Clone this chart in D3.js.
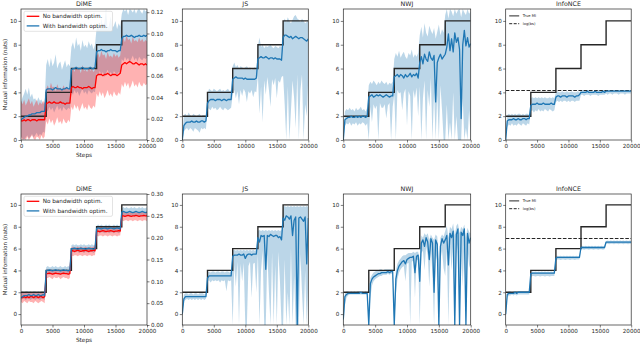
<!DOCTYPE html>
<html>
<head>
<meta charset="utf-8">
<script src="https://cdn.jsdelivr.net/npm/d3@7"></script>
<style>
  body { margin: 0; background: #fff; }
  svg { display: block; font-family: "DejaVu Sans", sans-serif; }
</style>
</head>
<body>
<svg id="chart" width="640" height="345"></svg>
<script>
// sample grid: one value every 250 steps, 0..20000
const STEPS = d3.range(0, 20001, 250);
const MI_STEPS = [0, 4000, 8000, 12000, 16000, 20000];
const TRUE_MI = [2, 4, 6, 8, 10, 10];
const X_TICKS = [0, 5000, 10000, 15000, 20000];
const Y_TICKS = [0, 2, 4, 6, 8, 10];
const RIGHT_TICKS_TOP = [0, 0.02, 0.04, 0.06, 0.08, 0.1, 0.12];
const RIGHT_TICKS_BOTTOM = [0, 0.05, 0.1, 0.15, 0.2, 0.25, 0.3];
const LOG_BS = [4.16, 6.93];
const TITLES = ["DiME", "JS", "NWJ", "InfoNCE"];
const DIME_LABELS = ["No bandwidth optim.", "With bandwidth optim."];
const NCE_LABELS = ["True MI", "log(bs)"];

// ---- top row ----
const dimeTopRedMean = [
1.6,1.6,1.7,1.6,1.7,1.7,1.6,1.7,1.7,1.7,1.6,1.7,1.7,1.7,1.7,1.7,
3.1,3.1,3.2,3.1,3.1,3.2,3.1,3.1,3.1,3.2,3.1,3.1,3.0,3.1,3.1,3.1,
4.4,4.5,4.4,4.4,4.5,4.4,4.4,4.3,4.4,4.4,4.4,4.5,4.4,4.3,4.4,4.4,
5.4,5.5,5.5,5.5,5.4,5.5,5.5,5.6,5.5,5.4,5.5,5.5,5.5,5.4,5.5,5.6,
6.3,6.4,6.5,6.4,6.5,6.6,6.5,6.4,6.4,6.5,6.4,6.3,6.4,6.4,6.3,6.4,6.3];
const dimeTopRedHi = [
3.3,3.0,3.4,2.9,3.2,3.5,3.0,3.3,2.8,3.1,3.4,2.9,3.2,3.0,3.3,3.1,
4.3,4.6,4.2,4.8,4.4,4.5,4.1,4.7,4.3,4.4,4.2,4.6,4.3,4.5,4.2,4.4,
5.8,6.1,5.7,6.2,5.9,6.0,5.6,6.3,5.8,5.9,5.7,6.1,5.8,6.0,5.7,5.9,
7.0,7.3,6.9,7.5,7.1,7.2,6.8,7.4,7.0,7.1,6.9,7.3,7.0,7.2,6.9,7.1,
8.3,8.6,8.2,8.8,8.4,8.5,8.1,8.7,8.3,8.4,8.2,8.6,8.3,8.5,8.2,8.4,8.3];
const dimeTopRedLo = [
0.2,0.0,0.1,0.0,0.3,0.0,0.2,0.4,0.1,0.0,0.3,0.2,0.0,0.4,0.1,0.3,
1.6,1.3,1.8,1.4,1.7,1.2,1.5,1.9,1.4,1.6,1.3,1.8,1.5,1.4,1.7,1.5,
2.8,2.5,3.0,2.6,2.9,2.4,2.7,3.1,2.6,2.8,2.5,3.0,2.7,2.6,2.9,2.7,
3.9,3.6,4.1,3.7,4.0,3.5,3.8,4.2,3.7,3.9,3.6,4.1,3.8,3.7,4.0,3.8,
4.7,4.4,4.9,4.5,4.8,4.3,4.6,5.0,4.5,4.7,4.4,4.9,4.6,4.5,4.8,4.6,4.7];
const dimeTopBlueMean = [
1.7,1.8,1.9,2.0,2.0,2.1,2.1,2.2,2.2,2.2,2.3,2.3,2.3,2.4,2.4,2.4,
4.2,4.3,4.3,4.3,4.2,4.3,4.4,4.3,4.3,4.3,4.2,4.3,4.3,4.4,4.3,4.3,
5.9,6.0,6.0,6.1,6.0,6.0,6.0,6.1,6.0,6.0,6.0,6.0,6.1,6.0,6.0,6.1,
7.4,7.5,7.5,7.6,7.5,7.5,7.4,7.5,7.5,7.6,7.5,7.5,7.5,7.4,7.5,7.5,
8.5,8.7,8.7,8.8,8.7,8.7,8.8,8.7,8.6,8.7,8.7,8.8,8.7,8.7,8.8,8.7,8.8];
const dimeTopBlueHi = [
3.2,3.6,3.9,4.3,3.8,4.4,3.6,3.9,3.4,3.5,3.2,3.6,3.3,3.4,3.0,3.2,
6.3,6.8,6.1,6.9,6.2,6.5,7.2,6.0,6.4,6.6,5.9,6.3,6.7,6.1,6.4,6.2,
7.8,8.2,7.6,8.6,7.9,8.1,7.5,8.4,7.8,8.0,7.7,8.3,7.9,8.1,7.6,8.0,
9.4,9.8,9.2,10.2,9.5,9.9,11.0,9.3,9.7,10.4,9.4,9.6,10.0,9.3,9.8,9.5,
10.6,11.0,10.8,11.0,10.5,11.0,10.9,10.7,11.0,10.6,10.9,11.0,10.8,10.6,11.0,10.8,10.9];
const dimeTopBlueLo = [
0.3,0.1,0.0,0.2,0.4,0.1,0.3,0.5,0.2,0.4,0.6,0.3,0.5,0.4,0.7,0.6,
2.6,2.4,2.8,2.5,2.7,2.3,2.6,2.9,2.5,2.7,2.4,2.8,2.6,2.5,2.7,2.6,
4.0,3.8,4.2,3.9,4.1,3.7,4.0,4.3,3.9,4.1,3.8,4.2,4.0,3.9,4.1,4.0,
5.6,5.4,5.8,5.5,5.7,5.3,5.6,5.9,5.5,5.7,5.4,5.8,5.6,5.5,5.7,5.6,
6.8,6.6,7.0,6.7,6.9,6.5,6.8,7.1,6.7,6.9,6.6,7.0,6.8,6.7,6.9,6.8,6.9];

const jsTopMean = [
0.0,1.2,1.4,1.5,1.5,1.5,1.6,1.5,1.5,1.6,1.5,1.5,1.6,1.6,1.5,1.6,
3.1,3.3,3.4,3.4,3.4,3.3,3.4,3.4,3.4,3.3,3.4,3.4,3.3,3.4,3.4,3.4,
5.1,5.2,5.3,5.2,5.2,5.2,5.2,5.1,5.2,5.1,5.1,5.1,5.1,5.1,5.1,5.2,
6.8,6.9,7.0,6.9,6.9,7.0,6.9,6.8,6.9,6.9,6.8,6.9,6.8,6.8,6.8,6.7,
8.6,8.8,8.8,8.7,8.6,8.7,8.5,8.6,8.7,8.6,8.5,8.6,8.6,8.5,8.4,8.3,8.5];
const jsTopHi = [
0.3,2.1,2.2,2.0,2.3,2.1,2.0,2.2,2.1,2.0,2.1,2.2,2.0,2.1,2.1,2.0,
3.9,4.3,4.2,4.1,4.3,4.2,4.1,4.2,4.3,4.1,4.2,4.1,4.2,4.3,4.1,4.2,
6.2,6.5,6.1,6.3,6.0,6.2,6.1,6.0,6.1,6.2,6.0,6.1,5.9,6.0,6.1,6.0,
7.9,8.6,7.8,8.0,7.7,7.9,7.8,7.9,8.0,7.8,7.7,7.9,7.8,7.7,7.9,7.8,
9.8,10.2,9.9,10.3,10.0,9.8,10.1,10.4,10.5,10.2,10.1,9.9,10.2,10.0,9.8,9.9,10.0];
const jsTopLo = [
0.0,0.7,0.9,1.0,0.8,1.0,0.9,0.7,1.0,0.9,0.8,0.6,1.0,0.9,1.0,0.9,
2.7,2.6,2.5,2.8,2.6,2.7,2.5,2.6,2.8,2.6,2.5,2.7,2.6,2.5,2.6,2.7,
3.8,4.2,3.5,4.1,3.0,4.2,3.7,4.3,4.0,3.2,4.1,3.9,4.2,3.6,4.1,4.0,
5.4,2.2,4.5,1.5,5.0,3.8,5.3,4.2,2.8,5.1,4.6,5.2,3.5,5.0,4.8,5.3,
5.4,3.0,0.0,4.5,0.0,2.5,5.0,3.5,1.0,5.5,0.0,4.2,5.5,0.0,3.0,2.0,5.2];

const nwjTopMean = [
0.0,1.7,1.8,1.9,1.9,2.0,1.9,1.9,2.0,1.9,2.0,1.9,2.0,2.0,1.9,2.0,
3.6,3.7,3.8,3.6,3.7,3.8,3.7,3.8,3.7,3.6,3.7,3.8,3.7,3.6,3.7,3.7,
5.3,5.4,5.5,5.3,5.5,5.4,5.2,5.5,5.3,5.4,5.6,5.3,5.5,5.4,5.6,5.2,
6.5,7.0,6.4,7.2,6.8,6.6,7.4,6.9,6.7,7.1,3.2,6.5,6.9,7.2,6.8,7.0,
7.2,7.8,8.9,7.5,8.5,7.4,9.0,8.2,8.6,7.6,1.8,8.0,9.2,7.9,8.6,7.8,8.1];
const nwjTopHi = [
0.3,2.4,2.6,2.5,2.7,2.5,2.6,2.4,2.7,2.5,2.6,2.8,2.5,2.6,2.4,2.7,
4.6,4.9,4.7,5.0,4.8,4.6,4.9,4.7,5.0,4.8,4.7,4.9,4.6,4.8,4.7,4.9,
6.8,7.3,7.0,7.5,6.9,7.2,7.4,7.0,6.8,7.3,7.1,7.6,6.9,7.2,7.0,7.3,
8.8,9.5,8.6,9.8,9.0,8.7,9.6,9.2,8.9,9.4,8.5,9.1,9.7,8.8,9.3,9.0,
10.5,11.0,10.2,11.0,10.8,10.4,11.0,10.6,10.9,11.0,10.3,11.0,10.7,10.5,11.0,10.6,10.8];
const nwjTopLo = [
0.0,1.2,1.4,1.3,1.5,1.2,1.4,1.3,1.5,1.2,1.4,1.3,1.5,1.4,1.2,1.4,
0.0,2.8,1.5,3.0,2.6,2.9,0.0,3.1,2.7,2.7,3.0,1.8,2.9,3.1,0.0,2.8,
3.8,0.0,4.2,3.9,4.0,2.5,3.9,4.3,1.2,4.1,3.7,0.0,4.2,3.5,4.4,2.0,
4.5,0.0,3.5,5.0,0.0,4.2,2.8,5.2,0.0,4.0,0.0,3.8,0.0,4.6,2.5,0.0,
0.0,3.0,0.0,1.5,0.0,4.0,0.0,2.0,0.0,0.0,0.0,3.5,0.0,1.0,0.0,2.5,0.0];

const nceTopMean = [
0.0,1.6,1.7,1.7,1.7,1.8,1.7,1.7,1.8,1.7,1.7,1.8,1.8,1.7,1.8,1.8,
2.9,3.0,3.0,3.0,3.1,3.0,3.0,3.0,3.1,3.0,3.0,3.0,3.0,3.1,3.0,3.0,
3.6,3.7,3.7,3.6,3.7,3.7,3.7,3.6,3.7,3.7,3.7,3.7,3.6,3.7,3.7,3.8,
4.0,4.0,4.0,4.0,4.1,4.0,4.0,4.0,4.0,4.1,4.0,4.0,4.0,4.0,4.1,4.0,
4.1,4.1,4.1,4.1,4.1,4.1,4.1,4.1,4.1,4.1,4.1,4.1,4.1,4.1,4.1,4.1,4.1];
const nceTopHi = [
0.2,2.1,2.2,2.1,2.2,2.1,2.2,2.1,2.2,2.2,2.1,2.2,2.1,2.2,2.2,2.1,
3.5,3.6,3.5,3.6,3.5,3.6,3.5,3.6,3.5,3.6,3.5,3.5,3.6,3.5,3.6,3.5,
4.0,4.1,4.0,4.0,4.1,4.0,4.0,4.1,4.0,4.0,4.1,4.0,4.0,4.0,4.1,4.0,
4.2,4.2,4.2,4.1,4.2,4.2,4.2,4.2,4.1,4.2,4.2,4.2,4.2,4.2,4.2,4.2,
4.2,4.2,4.2,4.2,4.2,4.2,4.2,4.2,4.2,4.2,4.2,4.2,4.2,4.2,4.2,4.2,4.2];
const nceTopLo = [
0.0,1.1,1.3,1.2,1.4,1.2,1.3,1.2,1.4,1.3,1.2,1.4,1.3,1.2,1.4,1.3,
2.4,2.5,2.3,2.5,2.4,2.6,2.4,2.5,2.4,2.6,2.5,2.4,2.6,2.5,2.4,2.5,
3.2,3.3,3.2,3.3,3.2,3.3,3.3,3.2,3.3,3.2,3.3,3.3,3.2,3.3,3.3,3.3,
3.8,3.8,3.7,3.8,3.8,3.8,3.7,3.8,3.8,3.8,3.8,3.7,3.8,3.8,3.8,3.8,
3.9,3.8,3.9,3.9,3.8,3.9,3.9,3.9,3.8,3.9,3.9,3.9,3.8,3.9,3.9,3.9,3.9];

// ---- bottom row ----
const dimeBotRedMean = [
1.5,1.5,1.6,1.5,1.6,1.5,1.6,1.6,1.5,1.6,1.6,1.5,1.6,1.6,1.5,1.6,
3.7,3.7,3.75,3.7,3.65,3.7,3.75,3.7,3.7,3.65,3.7,3.75,3.7,3.7,3.65,3.7,
5.8,5.8,5.75,5.8,5.85,5.8,5.75,5.8,5.8,5.85,5.8,5.75,5.8,5.8,5.85,5.8,
7.6,7.6,7.55,7.6,7.65,7.6,7.55,7.6,7.6,7.65,7.6,7.55,7.6,7.6,7.65,7.6,
9.0,9.0,8.95,9.0,9.05,9.0,8.95,9.0,9.0,9.05,9.0,8.95,9.0,9.0,9.05,9.0,9.0];
const dimeBotRedHi = [
1.9,2.0,1.9,2.0,1.9,2.0,2.0,1.9,2.0,1.9,2.0,2.0,1.9,2.0,1.9,2.0,
4.0,4.1,4.0,4.1,4.0,4.0,4.1,4.0,4.1,4.0,4.0,4.1,4.0,4.1,4.0,4.0,
6.1,6.2,6.1,6.1,6.2,6.1,6.2,6.1,6.1,6.2,6.1,6.1,6.2,6.1,6.2,6.1,
7.9,8.0,7.9,8.0,7.9,7.9,8.0,7.9,8.0,7.9,7.9,8.0,7.9,8.0,7.9,7.9,
9.3,9.4,9.3,9.4,9.3,9.3,9.4,9.3,9.4,9.3,9.3,9.4,9.3,9.4,9.3,9.3,9.4];
const dimeBotRedLo = [
1.1,1.0,1.2,1.1,1.0,1.2,1.1,1.1,1.0,1.2,1.1,1.0,1.1,1.2,1.1,1.0,
3.3,3.3,3.4,3.3,3.2,3.4,3.3,3.3,3.4,3.2,3.3,3.4,3.3,3.3,3.2,3.3,
5.4,5.3,5.4,5.4,5.3,5.4,5.4,5.3,5.4,5.4,5.3,5.4,5.4,5.3,5.4,5.4,
7.2,7.1,7.2,7.2,7.1,7.2,7.2,7.1,7.2,7.2,7.1,7.2,7.2,7.1,7.2,7.2,
8.6,8.5,8.6,8.6,8.5,8.6,8.6,8.5,8.6,8.6,8.5,8.6,8.6,8.5,8.6,8.6,8.5];
const dimeBotBlueMean = [
1.5,1.6,1.7,1.7,1.7,1.8,1.7,1.7,1.8,1.7,1.7,1.8,1.7,1.7,1.8,1.7,
4.0,4.0,4.05,4.0,3.95,4.0,4.05,4.0,4.0,3.95,4.0,4.05,4.0,4.0,3.95,4.0,
6.0,6.0,6.05,6.0,5.95,6.0,6.05,6.0,6.0,5.95,6.0,6.05,6.0,6.0,5.95,6.0,
7.85,7.9,7.85,7.8,7.85,7.9,7.85,7.8,7.85,7.9,7.85,7.8,7.85,7.9,7.85,7.8,
9.35,9.4,9.35,9.3,9.35,9.4,9.35,9.3,9.35,9.4,9.35,9.3,9.35,9.4,9.35,9.3,9.35];
const dimeBotBlueHi = [
2.0,2.1,2.0,2.1,2.1,2.0,2.1,2.0,2.1,2.1,2.0,2.1,2.0,2.1,2.1,2.0,
4.3,4.4,4.3,4.3,4.4,4.3,4.4,4.3,4.3,4.4,4.3,4.3,4.4,4.3,4.4,4.3,
6.3,6.4,6.3,6.4,6.3,6.3,6.4,6.3,6.4,6.3,6.3,6.4,6.3,6.4,6.3,6.3,
8.1,8.2,8.1,8.2,8.1,8.1,8.2,8.1,8.2,8.1,8.1,8.2,8.1,8.2,8.1,8.1,
9.7,9.8,9.7,9.8,9.7,9.7,9.8,9.7,9.8,9.7,9.7,9.8,9.7,9.8,9.7,9.7,9.8];
const dimeBotBlueLo = [
1.3,1.4,1.4,1.3,1.4,1.4,1.3,1.4,1.4,1.3,1.4,1.4,1.3,1.4,1.4,1.3,
3.7,3.7,3.6,3.7,3.7,3.6,3.7,3.7,3.6,3.7,3.7,3.6,3.7,3.7,3.6,3.7,
5.7,5.7,5.6,5.7,5.7,5.6,5.7,5.7,5.6,5.7,5.7,5.6,5.7,5.7,5.6,5.7,
7.5,7.5,7.4,7.5,7.5,7.4,7.5,7.5,7.4,7.5,7.5,7.4,7.5,7.5,7.4,7.5,
9.0,9.0,8.9,9.0,9.0,8.9,9.0,9.0,8.9,9.0,9.0,8.9,9.0,9.0,8.9,9.0,9.0];

const jsBotMean = [
0.0,1.4,1.6,1.6,1.6,1.6,1.6,1.6,1.6,1.6,1.6,1.6,1.6,1.6,1.6,1.6,
3.3,3.5,3.5,3.5,3.5,3.5,3.5,3.5,3.5,3.5,3.5,3.5,3.5,3.5,3.5,3.5,
5.3,5.4,5.4,5.4,5.5,5.4,5.4,5.5,5.1,5.4,5.5,5.5,5.4,5.5,5.5,5.5,
7.0,6.6,7.2,7.1,7.2,4.1,7.2,7.1,7.3,7.2,7.1,7.2,7.2,7.0,7.1,6.8,
8.8,8.6,9.0,8.9,8.7,9.0,7.2,8.6,8.9,-1.0,8.8,8.9,8.7,8.5,8.9,4.6,8.8];
const jsBotHi = [
0.3,1.8,1.9,1.9,1.8,1.9,1.9,1.8,1.9,1.9,1.8,1.9,1.9,1.9,1.8,1.9,
3.8,3.9,3.8,3.9,3.9,3.8,3.9,3.9,3.8,3.9,3.9,3.8,3.9,3.9,3.8,3.9,
5.8,5.9,5.8,5.9,5.8,5.9,5.8,5.9,5.8,5.9,5.8,5.9,5.8,5.9,5.8,5.9,
7.6,7.7,7.6,7.7,7.6,7.7,7.6,7.7,7.6,7.7,7.6,7.7,7.6,7.7,7.6,7.7,
9.8,9.9,9.8,9.9,9.8,9.9,9.8,9.9,9.8,9.9,9.8,9.9,9.8,9.9,9.8,9.9,9.8];
const jsBotLo = [
0.0,1.2,1.3,1.4,1.3,1.4,1.3,1.4,1.3,1.4,1.3,1.4,1.3,1.4,1.3,1.4,
3.0,3.1,2.9,3.1,3.0,3.1,3.0,3.1,2.9,3.1,3.0,3.1,2.1,3.1,3.0,3.1,
-1.0,4.5,2.5,4.8,-1.0,4.6,3.0,4.7,-1.0,-1.0,4.4,4.8,1.5,4.6,4.7,2.0,
5.5,-1.0,4.0,5.8,-1.0,-1.0,5.5,2.0,-1.0,5.6,-1.0,4.5,-1.0,5.7,3.0,-1.0,
-1.0,5.0,-1.0,2.0,-1.0,6.0,-1.0,3.5,-1.0,-1.0,-1.0,5.5,2.0,-1.0,4.0,-1.0,3.0];

const nwjBotMean = [
-0.5,1.6,1.8,1.9,1.9,1.9,1.9,1.9,1.9,1.9,1.9,2.0,1.9,1.9,1.9,1.9,
-1.0,2.8,3.2,3.4,3.5,3.6,3.7,3.7,3.8,3.8,3.8,3.8,3.9,3.8,3.9,3.9,
-1.0,3.2,4.0,4.4,4.6,4.8,4.9,4.6,5.0,5.1,5.2,5.2,5.3,3.8,5.3,5.4,
3.0,6.5,6.8,6.2,7.0,6.6,5.0,6.9,6.5,2.0,6.8,6.4,-1.0,6.2,6.9,6.5,
6.8,7.2,4.5,7.4,7.0,7.6,-1.0,7.3,7.8,-1.0,7.5,7.2,7.8,-1.0,7.4,6.5,7.0];
const nwjBotHi = [
0.0,1.9,2.1,2.1,2.0,2.1,2.0,2.1,2.0,2.1,2.1,2.0,2.1,2.0,2.1,2.0,
0.5,3.3,3.6,3.8,3.9,4.0,4.0,4.1,4.1,4.0,4.1,4.1,4.1,4.1,4.1,4.1,
1.0,4.0,4.6,4.9,5.1,5.3,5.4,5.4,5.5,5.6,5.6,5.6,5.7,5.6,5.7,5.7,
5.0,7.2,7.0,7.4,7.2,7.4,6.8,7.3,7.0,6.8,7.3,7.1,5.0,7.0,7.3,7.1,
7.6,8.1,7.0,8.0,7.8,8.3,7.2,8.1,8.3,7.4,8.0,7.8,8.2,7.0,7.9,7.5,7.4];
const nwjBotLo = [
-1.0,0.8,1.5,1.7,1.8,1.8,1.8,1.8,1.8,1.8,1.8,1.8,1.8,1.8,1.8,1.8,
-1.0,1.5,2.6,3.0,3.2,3.3,3.4,3.5,3.5,3.6,3.6,3.6,3.7,3.6,3.7,3.7,
-1.0,1.8,3.2,3.8,4.1,4.3,4.4,3.0,4.6,4.7,-1.0,4.8,4.9,1.5,4.9,5.0,
-1.0,5.6,5.8,4.0,6.2,5.4,2.5,6.0,3.5,-1.0,5.5,4.8,-1.0,5.0,5.8,4.2,
3.5,6.0,-1.0,6.2,4.0,6.5,-1.0,5.5,6.4,-1.0,5.8,2.5,6.6,-1.0,6.0,4.5,4.0];

const nceBotMean = [
0.0,1.8,1.9,1.9,1.9,1.9,2.0,1.9,2.0,2.0,2.0,2.0,2.0,2.0,2.0,2.0,
3.7,3.75,3.75,3.75,3.75,3.75,3.75,3.75,3.75,3.75,3.75,3.75,3.75,3.75,3.75,3.75,
5.1,5.2,5.2,5.2,5.2,5.2,5.2,5.2,5.2,5.2,5.2,5.2,5.2,5.2,5.2,5.2,
6.1,6.1,6.1,6.1,6.1,6.1,6.1,6.1,6.1,6.1,6.1,6.1,6.1,6.1,6.1,6.1,
6.6,6.6,6.6,6.6,6.6,6.6,6.6,6.6,6.6,6.6,6.6,6.6,6.6,6.6,6.6,6.6,6.6];
const nceBotHi = [
0.1,2.0,2.1,2.1,2.0,2.1,2.1,2.1,2.1,2.1,2.1,2.1,2.1,2.1,2.1,2.1,
3.85,3.9,3.85,3.9,3.85,3.9,3.85,3.9,3.85,3.9,3.85,3.9,3.85,3.9,3.85,3.9,
5.3,5.35,5.3,5.35,5.3,5.35,5.3,5.35,5.3,5.35,5.3,5.35,5.3,5.35,5.3,5.35,
6.2,6.25,6.2,6.25,6.2,6.25,6.2,6.25,6.2,6.25,6.2,6.25,6.2,6.25,6.2,6.25,
6.7,6.75,6.7,6.75,6.7,6.75,6.7,6.75,6.7,6.75,6.7,6.75,6.7,6.75,6.7,6.75,6.7];
const nceBotLo = [
-0.2,1.5,1.7,1.7,1.8,1.7,1.8,1.7,1.8,1.8,1.8,1.8,1.8,1.8,1.8,1.8,
3.4,3.5,3.5,3.45,3.5,3.5,3.45,3.5,3.5,3.45,3.5,3.5,3.45,3.5,3.5,3.5,
4.9,5.0,5.0,4.95,5.0,5.0,4.95,5.0,5.0,4.95,5.0,5.0,4.95,5.0,5.0,5.0,
5.95,5.95,5.9,5.95,5.95,5.9,5.95,5.95,5.9,5.95,5.95,5.9,5.95,5.95,5.9,5.95,
6.45,6.45,6.4,6.45,6.45,6.4,6.45,6.45,6.4,6.45,6.45,6.4,6.45,6.45,6.4,6.45,6.45];

// ---- layout ----
const BLUE = "#1f77b4";
const RED = "#ff0000";
const INK = "#262626";
const COLS = [[21, 147], [182.3, 308.3], [343.3, 470.7], [505.7, 631.2]];
const ROWS = [
  { top: 9, bottom: 140, domain: [0, 11], right: RIGHT_TICKS_TOP, rightDomain: [0, 0.123] },
  { top: 194, bottom: 325, domain: [-1, 11], right: RIGHT_TICKS_BOTTOM, rightDomain: [0, 0.3] },
];

const band = (mean, lo, hi, color) => ({ mean, lo, hi, color });

const panels = [
  { row: 0, col: 0, series: [band(dimeTopRedMean, dimeTopRedLo, dimeTopRedHi, RED), band(dimeTopBlueMean, dimeTopBlueLo, dimeTopBlueHi, BLUE)] },
  { row: 0, col: 1, series: [band(jsTopMean, jsTopLo, jsTopHi, BLUE)] },
  { row: 0, col: 2, series: [band(nwjTopMean, nwjTopLo, nwjTopHi, BLUE)] },
  { row: 0, col: 3, series: [band(nceTopMean, nceTopLo, nceTopHi, BLUE)], logbs: LOG_BS[0] },
  { row: 1, col: 0, series: [band(dimeBotRedMean, dimeBotRedLo, dimeBotRedHi, RED), band(dimeBotBlueMean, dimeBotBlueLo, dimeBotBlueHi, BLUE)] },
  { row: 1, col: 1, series: [band(jsBotMean, jsBotLo, jsBotHi, BLUE)] },
  { row: 1, col: 2, series: [band(nwjBotMean, nwjBotLo, nwjBotHi, BLUE)] },
  { row: 1, col: 3, series: [band(nceBotMean, nceBotLo, nceBotHi, BLUE)], logbs: LOG_BS[1] },
];

const svg = d3.select("#chart");
const TICK_FONT = 5.6;

const styleAxis = (g) => {
  g.select(".domain").remove();
  g.selectAll(".tick line").attr("stroke", INK).attr("stroke-width", 0.6);
  g.selectAll(".tick text").attr("fill", INK).attr("font-size", TICK_FONT).attr("font-family", "DejaVu Sans");
};

panels.forEach((p, i) => {
  const rowCfg = ROWS[p.row];
  const [x0, x1] = COLS[p.col];
  const x = d3.scaleLinear().domain([0, 20000]).range([x0, x1]);
  const y = d3.scaleLinear().domain(rowCfg.domain).range([rowCfg.bottom, rowCfg.top]);
  const g = svg.append("g");

  const clipId = `clip-${i}`;
  svg.append("clipPath").attr("id", clipId)
    .append("rect").attr("x", x0).attr("y", rowCfg.top).attr("width", x1 - x0).attr("height", rowCfg.bottom - rowCfg.top);

  const plot = g.append("g").attr("clip-path", `url(#${clipId})`);

  // bands first, then the reference step, then mean curves
  p.series.slice().reverse().forEach((s) => {
    const area = d3.area()
      .x((d, k) => x(STEPS[k]))
      .y0((d, k) => y(s.lo[k]))
      .y1((d, k) => y(s.hi[k]));
    plot.append("path").datum(s.mean).attr("d", area).attr("fill", s.color).attr("fill-opacity", 0.3);
  });

  const mi = MI_STEPS.map((s, k) => ({ step: s, value: TRUE_MI[k] }));
  plot.append("path").datum(mi)
    .attr("d", d3.line().x((d) => x(d.step)).y((d) => y(d.value)).curve(d3.curveStepAfter))
    .attr("fill", "none").attr("stroke", INK).attr("stroke-width", 1.4);

  if (p.logbs != null) {
    plot.append("path").datum([0, 20000])
      .attr("d", d3.line().x((d) => x(d)).y(() => y(p.logbs)))
      .attr("fill", "none").attr("stroke", INK).attr("stroke-width", 1.1).attr("stroke-dasharray", "3.6,1.6");
  }

  p.series.forEach((s) => {
    plot.append("path").datum(s.mean)
      .attr("d", d3.line().x((d, k) => x(STEPS[k])).y((d) => y(d)))
      .attr("fill", "none").attr("stroke", s.color).attr("stroke-width", 1.3).attr("stroke-linejoin", "round");
  });

  // frame
  g.append("rect").attr("x", x0).attr("y", rowCfg.top).attr("width", x1 - x0).attr("height", rowCfg.bottom - rowCfg.top)
    .attr("fill", "none").attr("stroke", INK).attr("stroke-width", 0.7);

  g.append("g").attr("transform", `translate(0,${rowCfg.bottom})`)
    .call(d3.axisBottom(x).tickValues(X_TICKS).tickFormat(d3.format("d")).tickSize(2.5).tickPadding(1.6))
    .call(styleAxis);
  g.append("g").attr("transform", `translate(${x0},0)`)
    .call(d3.axisLeft(y).tickValues(Y_TICKS).tickFormat(d3.format("d")).tickSize(2.5).tickPadding(1.4))
    .call(styleAxis);

  g.append("text").attr("x", (x0 + x1) / 2).attr("y", rowCfg.top - 2.6)
    .attr("text-anchor", "middle").attr("font-size", 6.3).attr("fill", INK).text(TITLES[p.col]);

  if (p.col === 0) {
    const yr = d3.scaleLinear().domain(rowCfg.rightDomain).range([rowCfg.bottom, rowCfg.top]);
    g.append("g").attr("transform", `translate(${x1},0)`)
      .call(d3.axisRight(yr).tickValues(rowCfg.right).tickFormat(d3.format(".2f")).tickSize(2.5).tickPadding(1.4))
      .call(styleAxis);

    g.append("text").attr("x", (x0 + x1) / 2).attr("y", rowCfg.bottom + 17)
      .attr("text-anchor", "middle").attr("font-size", 5.8).attr("fill", INK).text("Steps");

    g.append("text")
      .attr("transform", `translate(6.5,${(rowCfg.top + rowCfg.bottom) / 2}) rotate(-90)`)
      .attr("text-anchor", "middle").attr("font-size", 5.6).attr("fill", INK)
      .text("Mutual information (nats)");

    // legend
    const lg = g.append("g").attr("transform", `translate(${x0 + 3},${rowCfg.top + 2.3})`);
    lg.append("rect").attr("width", 88.5).attr("height", 20).attr("rx", 1.5)
      .attr("fill", "#fff").attr("fill-opacity", 0.8).attr("stroke", "#d0d0d0").attr("stroke-width", 0.6);
    DIME_LABELS.forEach((label, k) => {
      const ly = 5 + k * 9.6;
      lg.append("line").attr("x1", 2.7).attr("x2", 15.3).attr("y1", ly).attr("y2", ly)
        .attr("stroke", p.series[k].color).attr("stroke-width", 1.3);
      lg.append("text").attr("x", 18.7).attr("y", ly + 2).attr("font-size", 5.7).attr("fill", INK).text(label);
    });
  }

  if (p.col === 3) {
    const lg = g.append("g").attr("transform", `translate(${x0 + 3.5},${rowCfg.top + 6.9})`);
    NCE_LABELS.forEach((label, k) => {
      const ly = k * 7.8;
      const ln = lg.append("line").attr("x1", 0).attr("x2", 10).attr("y1", ly).attr("y2", ly)
        .attr("stroke", INK).attr("stroke-width", 1);
      if (k === 1) ln.attr("stroke-dasharray", "3,1.5");
      lg.append("text").attr("x", 13.5).attr("y", ly + 1.3).attr("font-size", 3.7).attr("fill", INK).text(label);
    });
  }
});
</script>
</body>
</html>
